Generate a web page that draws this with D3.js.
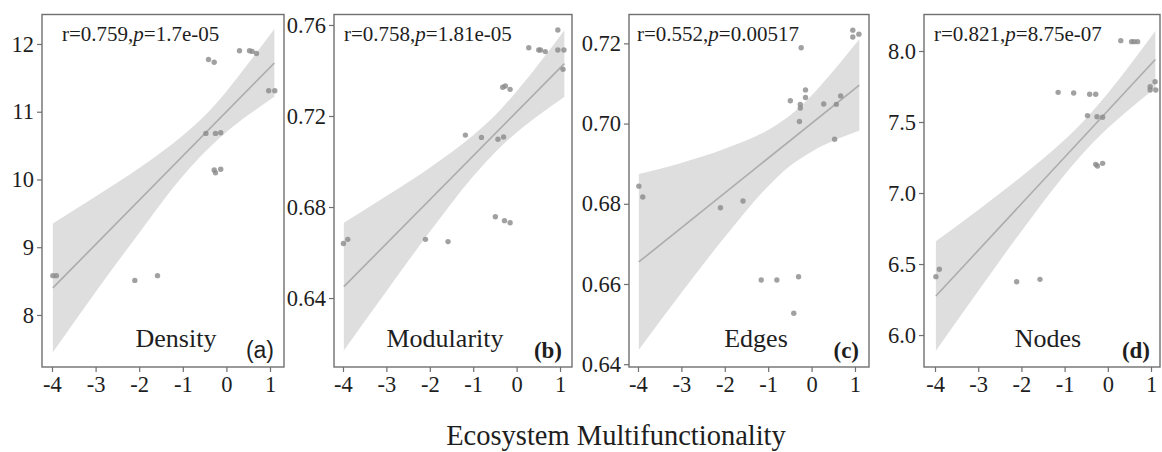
<!DOCTYPE html>
<html lang="en">
<head>
    <meta charset="UTF-8">
    <script src="https://cdn.jsdelivr.net/npm/d3@7/dist/d3.min.js"></script>
    <title>Ecosystem Multifunctionality</title>
    <style>
        body {
            margin: 0;
            background: #fff;
        }
        svg {
            display: block;
        }
        .axis text {
            font-family: 'Liberation Serif', 'Times New Roman', serif;
            font-size: 22.5px;
            fill: #1e1e1e;
        }
    </style>
</head>
<body>
    <svg id="chart"></svg>

<script>
    // values
    const xTicks = [-4, -3, -2, -1, 0, 1];
    const panelNames = ["Density", "Modularity", "Edges", "Nodes"];
    const panelTags = ["(a)", "(b)", "(c)", "(d)"];
    const statR = ["0.759", "0.758", "0.552", "0.821"];
    const statP = ["1.7e-05", "1.81e-05", "0.00517", "8.75e-07"];

    const densityTicks = [8, 9, 10, 11, 12];
    const modularityTicks = [0.64, 0.68, 0.72, 0.76];
    const edgesTicks = [0.64, 0.66, 0.68, 0.70, 0.72];
    const nodesTicks = [6.0, 6.5, 7.0, 7.5, 8.0];

    const densityX = [0.30, 0.53, 0.59, 0.69, -0.41, -0.28, 0.97, 1.11, -0.47, -0.25, -0.13, -0.28, -0.25, -0.13, -3.98, -3.90, -2.10, -1.58];
    const densityY = [11.90, 11.90, 11.89, 11.86, 11.77, 11.73, 11.31, 11.31, 10.68, 10.68, 10.69, 10.14, 10.10, 10.15, 8.58, 8.58, 8.51, 8.58];

    const modularityX = [0.95, 0.28, 0.51, 0.55, 0.66, 0.95, 1.09, 1.07, -0.32, -0.26, -0.15, -1.18, -0.81, -0.43, -0.30, -0.49, -0.28, -0.15, -3.99, -3.89, -2.10, -1.58];
    const modularityY = [0.7578, 0.7500, 0.7490, 0.7490, 0.7483, 0.7490, 0.7490, 0.7405, 0.7326, 0.7332, 0.7317, 0.7116, 0.7106, 0.7098, 0.7108, 0.6757, 0.6740, 0.6731, 0.6640, 0.6658, 0.6658, 0.6648];

    const edgesX = [0.95, 0.95, 1.09, -0.24, -0.14, -0.14, -0.49, -0.26, -0.26, 0.28, 0.67, 0.57, -0.28, 0.53, -3.98, -3.89, -2.10, -1.58, -1.16, -0.80, -0.30, -0.41];
    const edgesY = [0.7233, 0.7216, 0.7223, 0.7189, 0.7084, 0.7065, 0.7057, 0.7048, 0.7039, 0.7049, 0.7069, 0.7048, 0.7005, 0.6961, 0.6844, 0.6817, 0.6790, 0.6807, 0.6610, 0.6610, 0.6618, 0.6527];

    const nodesX = [0.30, 0.55, 0.61, 0.69, 1.095, 0.98, 0.98, 1.11, -1.15, -0.79, -0.42, -0.28, -0.47, -0.25, -0.12, -0.28, -0.24, -0.12, -3.98, -3.90, -2.11, -1.57];
    const nodesY = [8.073, 8.066, 8.066, 8.066, 7.784, 7.749, 7.725, 7.725, 7.709, 7.704, 7.695, 7.695, 7.545, 7.537, 7.533, 7.202, 7.190, 7.209, 6.411, 6.463, 6.375, 6.392];

    // fitted line ends and confidence band, read at these x values
    const fitX = [-3.98, 1.1];
    const densityFit = [8.40, 11.72];
    const modularityFit = [0.6450, 0.7430];
    const edgesFit = [0.6655, 0.7096];
    const nodesFit = [6.275, 7.940];

    const bandX = [-3.98, -3, -2, -1, -0.5, 0, 0.5, 1.1];
    const densityLow = [7.45, 8.34, 9.21, 10.05, 10.40, 10.70, 10.95, 11.22];
    const densityHigh = [9.35, 9.75, 10.17, 10.65, 10.94, 11.30, 11.71, 12.22];
    const modularityLow = [0.6169, 0.6430, 0.6691, 0.6935, 0.7040, 0.7128, 0.7202, 0.7283];
    const modularityHigh = [0.6731, 0.6848, 0.6973, 0.7115, 0.7202, 0.7308, 0.7426, 0.7577];
    const edgesLow = [0.6436, 0.6578, 0.6717, 0.6844, 0.6894, 0.6930, 0.6957, 0.6982];
    const edgesHigh = [0.6874, 0.6902, 0.6937, 0.6984, 0.7020, 0.7070, 0.7131, 0.7210];
    const nodesLow = [5.890, 6.311, 6.731, 7.129, 7.305, 7.457, 7.590, 7.739];
    const nodesHigh = [6.660, 6.881, 7.117, 7.375, 7.527, 7.703, 7.896, 8.141];

    const panels = [
        {xs: densityX, ys: densityY, ticks: densityTicks, fit: densityFit, low: densityLow, high: densityHigh,
         left: 42, right: 284, xDom: [-4.229, 1.321], yDom: [7.232, 12.435], fmt: d3.format("d"),
         statDx: 20, nameX: 176, tagFont: "'Liberation Sans', Arial, sans-serif", tagWeight: "normal"},
        {xs: modularityX, ys: modularityY, ticks: modularityTicks, fit: modularityFit, low: modularityLow, high: modularityHigh,
         left: 334, right: 572, xDom: [-4.207, 1.276], yDom: [0.6097, 0.7646], fmt: d3.format(".2f"),
         statDx: 10, nameX: 445, tagFont: "'Liberation Serif', serif", tagWeight: "bold"},
        {xs: edgesX, ys: edgesY, ticks: edgesTicks, fit: edgesFit, low: edgesLow, high: edgesHigh,
         left: 629, right: 869, xDom: [-4.207, 1.323], yDom: [0.6393, 0.7272], fmt: d3.format(".2f"),
         statDx: 8, nameX: 756, tagFont: "'Liberation Serif', serif", tagWeight: "bold"},
        {xs: nodesX, ys: nodesY, ticks: nodesTicks, fit: nodesFit, low: nodesLow, high: nodesHigh,
         left: 924, right: 1160, xDom: [-4.255, 1.208], yDom: [5.775, 8.257], fmt: d3.format(".1f"),
         statDx: 10, nameX: 1048, tagFont: "'Liberation Serif', serif", tagWeight: "bold"}
    ];

    const width = 1162;
    const height = 452;
    const plotTop = 14.5;
    const plotBottom = 367;
    const serif = "'Liberation Serif', 'Times New Roman', serif";
    const axisGrey = "#6f6f6f";

    const svg = d3.select("#chart")
        .attr("width", width)
        .attr("height", height);

    panels.forEach((p, i) => {
        const x = d3.scaleLinear().domain(p.xDom).range([p.left, p.right]);
        const y = d3.scaleLinear().domain(p.yDom).range([plotBottom, plotTop]);
        const g = svg.append("g");

        // confidence band
        const band = bandX.map((bx, j) => ({x: bx, lo: p.low[j], hi: p.high[j]}));
        g.append("path")
            .datum(band)
            .attr("fill", "#dedede")
            .attr("d", d3.area()
                .x(d => x(d.x))
                .y0(d => y(d.lo))
                .y1(d => y(d.hi))
                .curve(d3.curveMonotoneX));

        // fitted line
        g.append("path")
            .datum(fitX.map((fx, j) => [fx, p.fit[j]]))
            .attr("fill", "none")
            .attr("stroke", "#acacac")
            .attr("stroke-width", 1.6)
            .attr("d", d3.line().x(d => x(d[0])).y(d => y(d[1])));

        // points
        g.append("g")
            .selectAll("circle")
            .data(p.xs.map((v, j) => [v, p.ys[j]]))
            .join("circle")
            .attr("cx", d => x(d[0]))
            .attr("cy", d => y(d[1]))
            .attr("r", 2.7)
            .attr("fill", "#8a8a8a")
            .attr("fill-opacity", 0.8);

        // axes
        const xAxis = g.append("g")
            .attr("class", "axis")
            .attr("transform", `translate(0,${plotBottom})`)
            .call(d3.axisBottom(x).tickValues(xTicks).tickSize(5).tickPadding(4)
                .tickFormat(d => d < 0 ? "-" + Math.abs(d) : String(d)));
        const yAxis = g.append("g")
            .attr("class", "axis")
            .attr("transform", `translate(${p.left},0)`)
            .call(d3.axisLeft(y).tickValues(p.ticks).tickSize(5).tickPadding(3).tickFormat(p.fmt));

        [xAxis, yAxis].forEach(a => {
            a.attr("font-family", null).attr("font-size", null);
            a.select(".domain").remove();
            a.selectAll(".tick line").attr("stroke", axisGrey).attr("stroke-width", 1.2);
        });

        // panel border
        g.append("rect")
            .attr("x", p.left)
            .attr("y", plotTop)
            .attr("width", p.right - p.left)
            .attr("height", plotBottom - plotTop)
            .attr("fill", "none")
            .attr("stroke", axisGrey)
            .attr("stroke-width", 1.4);

        // r and p
        const stat = g.append("text")
            .attr("x", p.left + p.statDx)
            .attr("y", 41)
            .attr("font-family", serif)
            .attr("font-size", "21px")
            .attr("fill", "#1e1e1e");
        stat.append("tspan").text(`r=${statR[i]},`);
        stat.append("tspan").attr("font-style", "italic").text("p");
        stat.append("tspan").text(`=${statP[i]}`);

        g.append("text")
            .attr("x", p.nameX)
            .attr("y", 347)
            .attr("text-anchor", "middle")
            .attr("font-family", serif)
            .attr("font-size", "26px")
            .attr("fill", "#1e1e1e")
            .text(panelNames[i]);

        g.append("text")
            .attr("x", p.right - 10)
            .attr("y", 358)
            .attr("text-anchor", "end")
            .attr("font-family", p.tagFont)
            .attr("font-weight", p.tagWeight)
            .attr("font-size", "23px")
            .attr("fill", "#1e1e1e")
            .text(panelTags[i]);
    });

    svg.append("text")
        .attr("x", 616)
        .attr("y", 445)
        .attr("text-anchor", "middle")
        .attr("font-family", serif)
        .attr("font-size", "28.5px")
        .attr("fill", "#1e1e1e")
        .text("Ecosystem Multifunctionality");
</script>
</body>
</html>
